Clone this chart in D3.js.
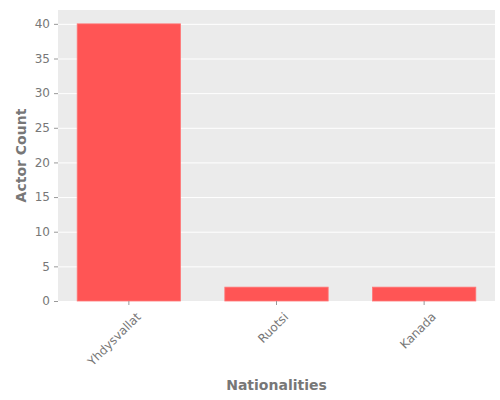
<!doctype html>
<head><meta charset="utf-8" /></head>
<body style="margin:0">
<svg id="chart" width="500" height="400"></svg>
<script src="https://cdn.jsdelivr.net/npm/d3@7/dist/d3.min.js"></script>
<script>
  var categories = ['Yhdysvallat', 'Ruotsi', 'Kanada']
    , counts = [40, 2, 2]
    , yTicks = [0, 5, 10, 15, 20, 25, 30, 35, 40]

    , plotLeft = 58, plotRight = 495, plotTop = 10, plotBottom = 301
    , svg = d3.select('#chart').style('font-family', 'DejaVu Sans')

    , x = d3.scaleBand().domain(categories).range([plotLeft, plotRight]).paddingInner(0.3).paddingOuter(0.13)
    , y = d3.scaleLinear().domain([0, 42]).range([plotBottom, plotTop])

  svg.append('rect')
      .attr('x', plotLeft).attr('y', plotTop)
      .attr('width', plotRight - plotLeft).attr('height', plotBottom - plotTop)
      .attr('fill', '#ebebeb')

  svg.append('g')
      .attr('transform', `translate(${plotRight},0)`)
      .call(d3.axisLeft(y).tickValues(yTicks).tickSize(plotRight - plotLeft).tickFormat(''))
      .call(g => g.select('.domain').remove())
      .call(g => g.selectAll('line').attr('stroke', '#fff').attr('stroke-width', 1))

  svg.selectAll('.bar')
      .data(counts)
      .join('rect')
      .attr('class', 'bar')
      .attr('x', (d, i) => x(categories[i]))
      .attr('y', d => y(d))
      .attr('width', x.bandwidth())
      .attr('height', d => plotBottom - y(d))
      .attr('fill', '#ff5555')
      .attr('stroke', '#ff7777')
      .attr('stroke-width', 0.8)

  svg.append('g')
      .attr('transform', `translate(${plotLeft},0)`)
      .call(d3.axisLeft(y).tickValues(yTicks).tickSize(4).tickPadding(4))
      .call(g => g.select('.domain').remove())
      .call(g => g.selectAll('line').attr('stroke', '#999'))
      .call(g => g.selectAll('text').attr('fill', '#777').attr('font-size', 12).attr('font-family', 'DejaVu Sans'))

  svg.append('g')
      .attr('transform', `translate(0,${plotBottom})`)
      .call(d3.axisBottom(x).tickSize(4).tickPadding(4))
      .call(g => g.select('.domain').remove())
      .call(g => g.selectAll('line').attr('stroke', '#999'))
      .call(g => g.selectAll('text')
          .attr('fill', '#777').attr('font-size', 12).attr('font-family', 'DejaVu Sans')
          .attr('text-anchor', 'end').attr('dy', '0.35em')
          .attr('transform', 'translate(4,8) rotate(-45)'))

  svg.append('text')
      .attr('x', (plotLeft + plotRight) / 2).attr('y', 390)
      .attr('text-anchor', 'middle').attr('fill', '#777')
      .attr('font-size', 14).attr('font-weight', 'bold')
      .text('Nationalities')

  svg.append('text')
      .attr('transform', `translate(26,${(plotTop + plotBottom) / 2}) rotate(-90)`)
      .attr('text-anchor', 'middle').attr('fill', '#777')
      .attr('font-size', 14).attr('font-weight', 'bold')
      .text('Actor Count')
</script>
</body>
